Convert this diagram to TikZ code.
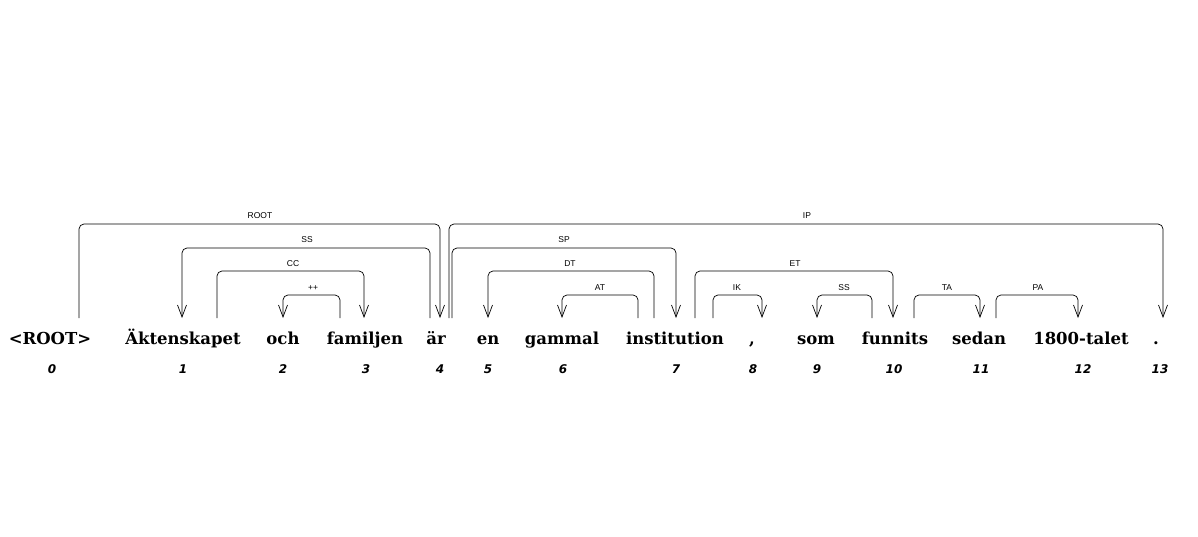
\documentclass[tikz,border=0pt]{standalone}
\usepackage{fontspec}
\setmainfont{DejaVu Serif}
\newfontfamily\numfont{DejaVu Sans}
\newfontfamily\labfont{Liberation Sans}
\usetikzlibrary{arrows.meta}
\begin{document}
\begin{tikzpicture}[x=1pt,y=-1pt,
  word/.style={inner sep=0pt,anchor=base,font=\bfseries\fontsize{16.5}{18}\selectfont},
  idx/.style={inner sep=0pt,anchor=base,font=\numfont\bfseries\itshape\fontsize{12}{13}\selectfont},
  lab/.style={inner sep=0pt,anchor=base,font=\labfont\fontsize{8.5}{9}\selectfont},
  arc/.style={line width=0.7pt,rounded corners=5pt},
  dep/.style={arc,-{Straight Barb[length=12pt,width=9pt,line width=0.7pt]}}]
\useasboundingbox (0,0) rectangle (1198,537);
% words
\node[word] (w0) at (50,344) {<ROOT>};
\node[word] (w1) at (183,344) {Äktenskapet};
\node[word] (w2) at (283,344) {och};
\node[word] (w3) at (365,344) {familjen};
\node[word] (w4) at (436,344) {är};
\node[word] (w5) at (488,344) {en};
\node[word] (w6) at (562,344) {gammal};
\node[word] (w7) at (675,344) {institution};
\node[word] (w8) at (752,344) {,};
\node[word] (w9) at (816,344) {som};
\node[word] (w10) at (895,344) {funnits};
\node[word] (w11) at (979,344) {sedan};
\node[word] (w12) at (1081,344) {1800-talet};
\node[word] (w13) at (1156,344) {.};
% indices
\foreach \i/\x in {0/52,1/183,2/283,3/366,4/440,5/488,6/563,7/676,8/753,9/817,10/894,11/981,12/1083,13/1160}
  \node[idx] (n\i) at (\x,373) {\i};
% arc end points
\coordinate (rootS) at (79,318);  \coordinate (rootE) at (440,318);
\coordinate (ssS) at (430,318);   \coordinate (ssE) at (182,318);
\coordinate (ccS) at (217,318);   \coordinate (ccE) at (364,318);
\coordinate (ppS) at (340,318);   \coordinate (ppE) at (283,318);
\coordinate (ipS) at (449,318);   \coordinate (ipE) at (1163,318);
\coordinate (spS) at (452,318);   \coordinate (spE) at (676,318);
\coordinate (dtS) at (654,318);   \coordinate (dtE) at (488,318);
\coordinate (atS) at (638,318);   \coordinate (atE) at (562,318);
\coordinate (etS) at (695,318);   \coordinate (etE) at (893,318);
\coordinate (ikS) at (713,318);   \coordinate (ikE) at (762,318);
\coordinate (ssbS) at (872,318);  \coordinate (ssbE) at (817,318);
\coordinate (taS) at (914,318);   \coordinate (taE) at (980,318);
\coordinate (paS) at (996,318);   \coordinate (paE) at (1078,318);
% arcs
\draw[dep] (rootS) |- (260,224) -| (rootE);
\draw[dep] (ssS) |- (307,248) -| (ssE);
\draw[dep] (ccS) |- (293,271) -| (ccE);
\draw[dep] (ppS) |- (313,295) -| (ppE);
\draw[dep] (ipS) |- (807,224) -| (ipE);
\draw[dep] (spS) |- (564,248) -| (spE);
\draw[dep] (dtS) |- (570,271) -| (dtE);
\draw[dep] (atS) |- (600,295) -| (atE);
\draw[dep] (etS) |- (795,271) -| (etE);
\draw[dep] (ikS) |- (737,295) -| (ikE);
\draw[dep] (ssbS) |- (844,295) -| (ssbE);
\draw[dep] (taS) |- (947,295) -| (taE);
\draw[dep] (paS) |- (1038,295) -| (paE);
% labels
\node[lab] (lroot) at (260,219) {ROOT};
\node[lab] (lss) at (307,243) {SS};
\node[lab] (lcc) at (293,266) {CC};
\node[lab] (lpp) at (313,290) {++};
\node[lab] (lip) at (807,219) {IP};
\node[lab] (lsp) at (564,243) {SP};
\node[lab] (ldt) at (570,266) {DT};
\node[lab] (lat) at (600,290) {AT};
\node[lab] (let) at (795,266) {ET};
\node[lab] (lik) at (737,290) {IK};
\node[lab] (lssb) at (844,290) {SS};
\node[lab] (lta) at (947,290) {TA};
\node[lab] (lpa) at (1038,290) {PA};
\end{tikzpicture}
\end{document}
